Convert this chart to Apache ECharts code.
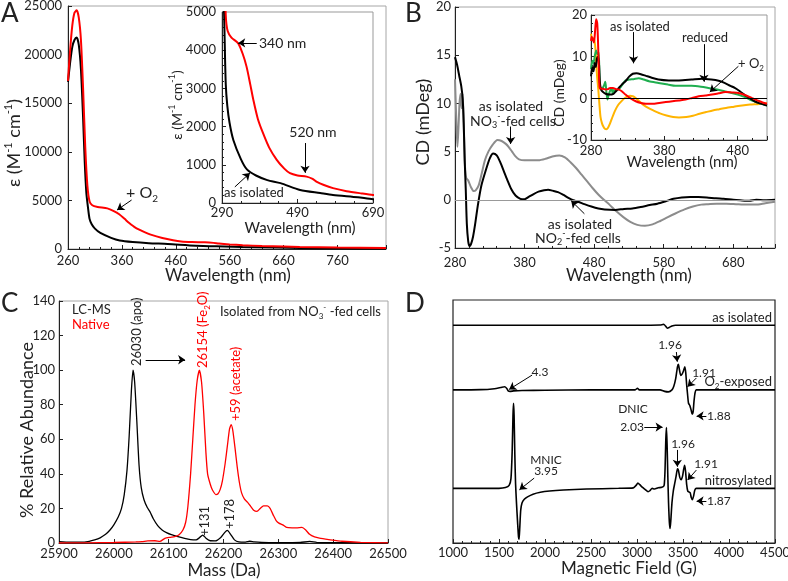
<!DOCTYPE html>
<html><head><meta charset="utf-8">
<script src="https://cdn.jsdelivr.net/npm/echarts@6/dist/echarts.min.js"></script>
<style>html,body{margin:0;padding:0;background:#fff}#c{width:788px;height:581px}</style>
</head><body><div id="c"></div>
<script>
// ---------- Panel A: UV-vis (wavelength nm, epsilon) ----------
const aIsolated = [[260,17200],[264,19200],[268,20800],[272,21500],[276,21750],[280,21000],[284,18500],[288,13500],[291,9000],[294,5800],[297,4300],[300,3100],[304,2550],[310,2100],[320,1650],[340,1150],[356,880],[380,720],[410,600],[445,520],[497,340],[550,260],[584,210],[650,150],[690,100],[760,70],[850,40]];
const aO2 = [[260,17300],[264,20500],[268,23000],[272,24300],[276,24550],[280,23800],[284,21500],[288,16500],[292,10500],[296,6500],[300,4900],[305,4500],[315,4330],[333,4180],[345,3900],[355,3570],[365,3100],[373,2700],[385,2200],[399,1820],[415,1450],[435,1130],[455,900],[470,780],[490,720],[514,690],[530,630],[540,560],[560,470],[584,390],[620,310],[660,250],[690,210],[760,150],[850,100]];
// ---------- Panel B: CD (wavelength nm, mDeg) ----------
const bNO2fed = [[280,14.8],[283,14.0],[286,12.9],[289,11.8],[291,10.5],[292.5,8],[294,4],[295.5,1],[297,-2.5],[299,-4.3],[301,-4.8],[303,-4.6],[306,-3.8],[309,-2.5],[313,-0.5],[318,1.5],[324,3.0],[330,4.3],[335,4.8],[340,4.6],[345,3.9],[350,3.0],[355,2.1],[361,1.1],[367,0.45],[374,0.1],[380,0.05],[386,0.3],[393,0.6],[400,0.85],[408,1.0],[414,1.05],[420,0.95],[428,0.8],[436,0.5],[443,0.2],[450,-0.05],[457,-0.2],[466,-0.45],[476,-0.7],[486,-0.9],[495,-1.0],[510,-1.05],[523,-0.95],[535,-0.9],[547,-0.75],[560,-0.55],[571,-0.4],[583,-0.15],[594,0.1],[606,0.25],[618,0.3],[630,0.3],[642,0.25],[655,0.15],[666,0.1],[680,0.0],[690,-0.05],[703,-0.1],[713,0.0],[725,-0.05],[740,0.0]];
const bNO3fed = [[280,12.5],[282,8],[283.5,5.5],[285,7.5],[286.5,10],[288,11],[289.5,9.5],[291,11],[292.5,8],[294,4],[296,2.3],[299,2.0],[303,1.3],[307,0.9],[310,1.0],[314,1.5],[318,2.6],[323,4.1],[328,5.0],[334,5.7],[341,6.2],[347,6.1],[353,5.8],[357,5.5],[362,5.0],[367,4.5],[372,4.2],[380,4.1],[390,4.1],[400,4.1],[410,4.25],[420,4.5],[430,4.6],[438,4.4],[446,3.9],[454,3.3],[462,2.6],[470,1.9],[478,1.2],[486,0.55],[494,0.0],[502,-0.5],[512,-1.2],[522,-1.8],[532,-2.3],[542,-2.6],[553,-2.7],[564,-2.55],[575,-2.2],[586,-1.8],[596,-1.45],[610,-1.0],[622,-0.7],[634,-0.5],[644,-0.45],[656,-0.4],[670,-0.4],[684,-0.45],[698,-0.5],[712,-0.5],[726,-0.35],[740,-0.2]];
// Panel B inset
const biIsolated = [[280,5.3],[282,7.5],[283.5,6.5],[285,8.5],[286.5,7.5],[288,9.5],[289.5,10],[291,8],[292,4],[293.5,2.2],[296,1.6],[300,1.1],[305,0.9],[310,1.0],[314,1.7],[318,2.5],[322,3.3],[327,4.1],[332,5.2],[337,5.9],[342,6.0],[348,5.8],[355,5.4],[362,5.0],[372,4.5],[386,4.3],[400,4.3],[417,4.5],[431,4.7],[444,4.5],[454,4.2],[462,3.7],[470,3.0],[476,2.5],[483,1.7],[489,0.9],[496,0.1],[503,-0.7],[510,-1.2],[520,-1.7]];
const biReduced = [[280,7.0],[282,9],[283.5,8.5],[285,10],[287,11.5],[289,10.5],[290.5,11],[291.5,6],[292.5,2.8],[294,2.2],[296,2.5],[298,3.2],[299.5,4],[301,1.5],[302.5,-0.3],[304,0.8],[306,1.8],[308,2.5],[309.5,1.2],[311,2.0],[313,1.7],[316,2.0],[319,2.4],[322,3.1],[327,4.3],[332,4.5],[338,4.6],[345,4.8],[352,4.5],[359,4.1],[372,3.7],[385,3.3],[395,3.0],[417,3.0],[430,2.8],[440,2.5],[452,2.1],[462,1.7],[472,1.3],[480,0.9],[490,0.3],[498,-0.4],[507,-1.0],[514,-1.4],[520,-1.7]];
const biO2 = [[280,13.8],[281,14.8],[282.5,14],[284,13.4],[285.5,16],[287,19],[288.5,18],[289.5,14],[290.5,8],[291.5,3],[293,2.3],[296,2.3],[300,2.1],[303,2.2],[306,2.5],[310,2.5],[314,2.2],[318,2.1],[322,1.7],[327,0.9],[333,0.1],[341,-0.7],[348,-1.1],[355,-1.3],[364,-1.3],[373,-1.1],[382,-0.9],[391,-0.7],[400,-0.5],[409,-0.3],[418,0.1],[427,0.5],[436,0.7],[445,0.9],[454,1.2],[463,1.5],[472,1.4],[481,1.3],[490,0.8],[499,0.1],[507,-0.5],[514,-1.0],[520,-1.3]];
const biFourth = [[280,15.5],[282,14],[284,14.5],[286,12],[288,6],[290,2],[291.5,-1.5],[293,-4.5],[295,-6],[297,-6.8],[299,-7.3],[301,-7.4],[303,-7.1],[306,-6.0],[309,-4.6],[313,-2.9],[317,-1.6],[322,-0.6],[327,0.2],[333,0.6],[337,0.5],[340,0.2],[345,-0.6],[351,-1.5],[358,-2.3],[365,-2.9],[374,-3.6],[383,-4.1],[392,-4.5],[400,-4.6],[410,-4.5],[419,-4.2],[428,-3.7],[437,-3.3],[446,-2.9],[455,-2.6],[464,-2.3],[475,-2.0],[486,-1.7],[497,-1.5],[507,-1.4],[514,-1.3],[520,-1.2]];
// ---------- Panel C: mass spectra (Da, % abundance) ----------
const cLCMS = [[25900,0.8],[25920,0.5],[25940,0.5],[25955,1],[25965,1.8],[25975,3],[25985,5],[25993,7.5],[26000,10.5],[26008,15],[26014,20],[26019,28],[26024,42],[26028,62],[26032,88],[26035,100],[26038,93],[26042,70],[26046,45],[26050,32],[26055,25],[26061,20.5],[26066,18],[26072,14],[26080,10],[26088,7.5],[26096,6],[26105,4.8],[26117,3.7],[26129,2.7],[26140,2.0],[26150,1.8],[26156,3],[26162,4.6],[26168,2.8],[26176,1.3],[26185,1.2],[26195,3.2],[26202,6],[26207,7.3],[26213,5],[26220,1.8],[26228,0.6],[26240,0.5],[26248,1.0],[26256,0.6],[26270,0.3],[26300,0.2],[26340,0.3],[26357,0.9],[26370,0.4],[26400,0.2],[26450,0.1],[26500,0.1]];
const cNative = [[25900,0],[25950,0.1],[26000,0.3],[26040,0.6],[26051,0.8],[26062,1.2],[26075,1.3],[26084,0.9],[26093,2.7],[26102,3.3],[26111,3.7],[26119,4.8],[26126,7.5],[26131,12],[26135,21],[26140,40],[26144,60],[26148,80],[26152,94],[26156,100],[26160,93],[26164,75],[26168,52],[26171,40],[26174,36],[26178,32],[26182,29.5],[26186,28],[26190,28.5],[26194,31],[26198,36],[26203,46],[26207,56],[26211,66],[26214,68.5],[26217,65],[26221,55],[26225,44],[26229,35],[26233,29],[26238,25.5],[26244,23.5],[26249,21.5],[26255,19],[26261,18.3],[26267,20],[26273,21.5],[26280,21.5],[26285,20],[26291,16],[26296,13],[26301,11.5],[26308,10.5],[26315,9],[26325,8.8],[26333,8.8],[26343,9],[26350,7.5],[26357,5],[26366,3.5],[26375,2.8],[26392,2],[26416,1],[26450,0.4],[26500,0.1]];
// ---------- Panel D: EPR (field G, signal, stacked with offsets) ----------
const dIsoOffset = 89.6, dO2Offset = 63, dNitroOffset = 22.5;
const dIsolated = [[1000,0],[2000,0],[3000,0],[3250,0.1],[3290,0.4],[3310,-0.3],[3330,-1.2],[3350,-0.9],[3380,-0.3],[3420,0],[4500,0]];
const dO2 = [[1000,0],[1300,0.1],[1450,0.5],[1520,1.0],[1560,1.3],[1585,0.6],[1600,-0.4],[1620,-0.6],[1660,-0.4],[1750,-0.25],[2000,-0.15],[2500,0],[2980,0],[3005,0.7],[3025,0],[3250,0],[3300,-0.6],[3340,-0.8],[3380,0],[3400,1.5],[3420,4.5],[3440,9.5],[3450,10.5],[3460,8.5],[3475,6],[3490,6.5],[3505,7.8],[3520,9.5],[3530,7],[3540,2],[3550,-2],[3560,-5.5],[3575,-6.5],[3590,-8.5],[3600,-10],[3610,-9],[3620,-4.5],[3632,-1],[3645,0],[4500,0]];
const dNitro = [[1000,0],[1500,0],[1570,0.3],[1610,1.2],[1630,4],[1643,15],[1652,30],[1658,35],[1664,30],[1672,14],[1680,2],[1690,-6],[1702,-14],[1712,-20],[1718,-21],[1726,-16],[1736,-9],[1750,-6],[1775,-4.5],[1810,-3.5],[1870,-2.4],[1950,-1.6],[2050,-1.1],[2200,-0.7],[2450,-0.3],[2800,0],[2960,0.2],[2990,1.2],[3010,2.2],[3030,1.5],[3060,0.4],[3090,-0.5],[3120,-1.4],[3140,-1.0],[3165,0],[3190,-0.3],[3230,0.2],[3270,0.4],[3295,1.2],[3305,8],[3313,20],[3320,25],[3327,18],[3335,5],[3343,-6],[3352,-14],[3360,-16.5],[3368,-13],[3380,-6],[3395,-1],[3410,2],[3425,5],[3440,8],[3450,7.5],[3465,4.5],[3480,3.5],[3495,5],[3508,8],[3518,9.5],[3528,7],[3540,1.5],[3552,-1.2],[3565,-1.5],[3578,-1.8],[3590,-3.8],[3602,-4.7],[3615,-3.2],[3628,-0.8],[3645,0],[4500,0]];

const F = 'Lato, "Open Sans", sans-serif';
const RED = '#ff0000';

function vAxis(o) {
  const lc = o.lc || '#222';
  return {
    type:'value', gridIndex:o.g, min:o.min, max:o.max, interval:o.iv, show: o.show !== false,
    axisLine:{show:true, onZero:false, lineStyle:{color:lc, width:1}},
    axisTick:{show:true, inside:true, length:o.tl||4, lineStyle:{color:lc}},
    minorTick:{show:!!o.minor, splitNumber:o.minor||5, length:o.ml||2, lineStyle:{color:lc}},
    axisLabel:{fontFamily:F, fontSize:o.fs||13, color:'#222', margin:o.m||5, showMaxLabel:o.smax!==false,
      formatter: v => String(v)},
    splitLine:{show:false}
  };
}
function line(xi, data, color, width, extra) {
  return Object.assign({type:'line', xAxisIndex:xi, yAxisIndex:xi, data, symbol:'none', smooth:0.25,
    lineStyle:{color, width}, silent:true, animation:false}, extra||{});
}
function arrows(pairs) {
  return {symbol:['none','arrow'], symbolSize:7, silent:true, animation:false,
    lineStyle:{color:'#000', width:1, type:'solid'}, label:{show:false},
    data: pairs.map(p => [{coord:p[0]},{coord:p[1]}])};
}
function zeroLine(color) {
  return {symbol:['none','none'], silent:true, animation:false, lineStyle:{color, width:1, type:'solid'},
    label:{show:false}, data:[{yAxis:0}]};
}
function rich(size, color) {
  const L = Math.round(size*1.3);
  const s = Math.round(size*0.62);
  return {
    n:{fontSize:size, fontFamily:F, fill:color, color, lineHeight:L},
    sup:{fontSize:s, fontFamily:F, fill:color, color, verticalAlign:'top'},
    sub:{fontSize:s, fontFamily:F, fill:color, color, verticalAlign:'bottom'}
  };
}
function T(text, x, y, o) {
  o = o || {};
  const size = o.size || 13, color = o.color || '#222';
  const t = text.indexOf('{') >= 0 ? text : '{n|' + text + '}';
  return {type:'text', x, y, rotation:o.rot||0, z:100, silent:true,
    style:{text:t, rich:rich(size,color), fill:color, fontFamily:F, fontSize:size,
      align:o.align||'center', verticalAlign:o.va||'middle'}};
}
const ROT = Math.PI/2;
const noOB = {outerBoundsMode:'none'};

const grids = [
  Object.assign({left:68, top:6, width:318, height:243, show:true, borderColor:'#a6a6a6', borderWidth:1}, noOB),
  Object.assign({left:222, top:12, width:151, height:191, show:true, borderColor:'#999', borderWidth:1, backgroundColor:'#fff'}, noOB),
  Object.assign({left:455, top:7, width:320, height:241, show:true, borderColor:'#a6a6a6', borderWidth:1}, noOB),
  Object.assign({left:591, top:15, width:176, height:125, show:true, borderColor:'#999', borderWidth:1, backgroundColor:'#fff'}, noOB),
  Object.assign({left:59, top:301, width:329, height:242, show:true, borderColor:'#a6a6a6', borderWidth:1}, noOB),
  Object.assign({left:453, top:300, width:322, height:243, show:true, borderColor:'#222', borderWidth:1.2}, noOB)
];
const xAxes = [
  vAxis({g:0, min:260, max:850, iv:100, minor:5, smax:false, m:5}),
  vAxis({g:1, min:290, max:690, iv:200, minor:4, m:3}),
  vAxis({g:2, min:280, max:740, iv:100, minor:5, smax:false, m:8}),
  vAxis({g:3, min:280, max:520, iv:100, minor:5, smax:false, m:4}),
  vAxis({g:4, min:25900, max:26500, iv:100, m:4}),
  vAxis({g:5, min:1000, max:4500, iv:500, minor:5, m:3})
];
const yAxes = [
  vAxis({g:0, min:0, max:25000, iv:5000, m:6}),
  vAxis({g:1, min:0, max:5000, iv:1000, minor:5, m:6}),
  vAxis({g:2, min:-5, max:20, iv:5, m:4}),
  vAxis({g:3, min:-10, max:20, iv:10, minor:5, m:4}),
  vAxis({g:4, min:0, max:140, iv:20, m:4}),
  vAxis({g:5, min:0, max:100, iv:20, show:false})
];
const off = (arr, o) => arr.map(p => [p[0], p[1] + o]);

const series = [
  line(0, aIsolated, '#000', 2, {markLine: arrows([[[378,5040],[351,4010]]])}),
  line(0, aO2, RED, 2),
  line(1, aIsolated, '#000', 2, {markLine: arrows([[[382,4190],[333,4190]],[[510,1570],[510,790]],[[324,420],[364,785]]])}),
  line(1, aO2, RED, 2),
  line(2, bNO3fed, '#8c8c8c', 2, {markLine: zeroLine('#999')}),
  line(2, bNO2fed, '#000', 2, {markLine: arrows([[[360,7.6],[360,5.8]],[[466,-1.45],[447,-0.1]]])}),
  line(3, biFourth, '#ffb400', 2, {markLine: zeroLine('#000')}),
  line(3, biReduced, '#1fae4f', 2, {markLine: arrows([[[338,15.9],[338,8.4]],[[434,13],[434,4.0]],[[481,7.7],[442,1.5]]])}),
  line(3, biIsolated, '#000', 2),
  line(3, biO2, RED, 2),
  line(4, cLCMS, '#000', 1.3, {smooth:0.2, markLine: arrows([[[26058,106],[26130,106]]])}),
  line(4, cNative, RED, 1.3, {smooth:0.2}),
  line(5, off(dIsolated, dIsoOffset), '#000', 1.6, {smooth:0.2}),
  line(5, off(dO2, dO2Offset), '#000', 1.6, {smooth:0.2}),
  line(5, off(dNitro, dNitroOffset), '#000', 1.6, {smooth:0.2, markLine: arrows([
    [[1860,69.1],[1610,63.2]],
    [[3428,78.6],[3438,74.6]],
    [[3645,67.9],[3550,64.3]],
    [[3754,52.3],[3648,52.3]],
    [[3079,47.7],[3278,47.7]],
    [[3438,38.3],[3438,31.4]],
    [[3645,30.0],[3550,25.9]],
    [[3754,17.3],[3648,17.3]],
    [[1882,26.7],[1722,21.9]]
  ])})
];

const graphics = [
  // panel letters
  T('A', 1, 14, {size:26, align:'left'}),
  T('B', 405, 14, {size:26, align:'left'}),
  T('C', 1, 304, {size:26, align:'left'}),
  T('D', 405, 304, {size:26, align:'left'}),
  // A titles
  T('Wavelength (nm)', 228, 276, {size:17}),
  T('{n|ε (M}{sup|-1}{n| cm}{sup|-1}{n|)}', 14, 143, {size:18, rot:ROT}),
  T('Wavelength (nm)', 300, 228, {size:15}),
  T('{n|ε (M}{sup|-1}{n| cm}{sup|-1}{n|)}', 177, 105, {size:14, rot:ROT}),
  T('{n|+ O}{sub|2}', 126, 193, {size:16, align:'left'}),
  T('340 nm', 259, 43, {size:14, align:'left'}),
  T('520 nm', 313, 132, {size:14}),
  T('as isolated', 254, 193, {size:13}),
  // B titles
  T('Wavelength (nm)', 629, 276, {size:17}),
  T('CD (mDeg)', 423, 122, {size:18, rot:ROT}),
  T('Wavelength (nm)', 682, 162, {size:15}),
  T('CD (mDeg)', 559, 93, {size:14, rot:ROT}),
  T('as isolated', 511, 106, {size:14}),
  T('{n|NO}{sub|3}{sup|-}{n|-fed cells}', 513, 121, {size:14}),
  T('as isolated', 580, 224, {size:14}),
  T('{n|NO}{sub|2}{sup|-}{n|-fed cells}', 578, 238, {size:14}),
  T('as isolated', 640, 27, {size:13}),
  T('reduced', 705, 38, {size:13}),
  T('{n|+ O}{sub|2}', 751, 64, {size:13}),
  // C
  T('Mass (Da)', 224, 571, {size:17}),
  T('% Relative Abundance', 27, 430, {size:18, rot:ROT}),
  T('LC-MS', 72, 310, {size:13, align:'left'}),
  T('Native', 72, 325, {size:13, align:'left', color:RED}),
  T('{n|Isolated from NO}{sub|3}{sup|-}{n| -fed cells}', 381, 312, {size:13, align:'right'}),
  T('26030 (apo)', 137, 366, {size:13, rot:ROT, align:'left'}),
  T('{n|26154 (Fe}{sub|2}{n|O)}', 203, 368, {size:13, rot:ROT, align:'left', color:RED}),
  T('+59 (acetate)', 236, 421, {size:13, rot:ROT, align:'left', color:RED}),
  T('+131', 205, 536, {size:13, rot:ROT, align:'left'}),
  T('+178', 230, 529, {size:13, rot:ROT, align:'left'}),
  // D
  T('Magnetic Field (G)', 629, 569, {size:17}),
  T('as isolated', 772, 318, {size:13, align:'right'}),
  T('{n|O}{sub|2}{n|-exposed}', 772, 382, {size:13, align:'right'}),
  T('nitrosylated', 772, 481, {size:13, align:'right'}),
  T('1.96', 670, 345, {size:12}),
  T('4.3', 540, 372, {size:12}),
  T('1.91', 704, 373, {size:12}),
  T('1.88', 707, 416, {size:12, align:'left'}),
  T('DNIC', 633, 409, {size:12}),
  T('2.03', 632, 427, {size:12}),
  T('1.96', 683, 444, {size:12}),
  T('1.91', 706, 464, {size:12}),
  T('1.87', 707, 501, {size:12, align:'left'}),
  T('MNIC', 546, 460, {size:12}),
  T('3.95', 546, 471, {size:12})
];

const chart = echarts.init(document.getElementById('c'), null, {renderer:'canvas'});
chart.setOption({
  animation:false,
  backgroundColor:'#fff',
  grid: grids,
  xAxis: xAxes,
  yAxis: yAxes,
  series: series,
  graphic: graphics
});
</script>
</body></html>
